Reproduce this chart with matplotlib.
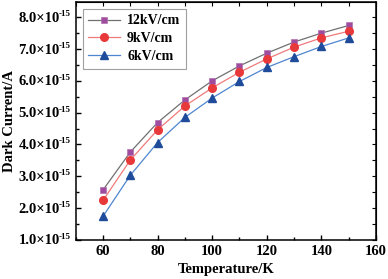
import matplotlib.pyplot as plt
import matplotlib.transforms as mtransforms
from matplotlib.ticker import MultipleLocator, NullFormatter

plt.rcParams['font.family'] = 'Liberation Serif'
plt.rcParams['font.weight'] = 'bold'

# temperature (K) and dark current (x1e-15 A)
temp = [60, 70, 80, 90, 100, 110, 120, 130, 140, 150]
cur_12 = [2.57, 3.76, 4.69, 5.40, 6.00, 6.47, 6.87, 7.22, 7.50, 7.74]
cur_9 = [2.24, 3.51, 4.46, 5.21, 5.78, 6.27, 6.69, 7.06, 7.35, 7.56]
cur_6 = [1.74, 3.03, 4.06, 4.85, 5.46, 5.98, 6.42, 6.76, 7.08, 7.35]
yticks = [1.0, 2.0, 3.0, 4.0, 5.0, 6.0, 7.0, 8.0]

fig = plt.figure(figsize=(3.88, 2.79), dpi=100)
ax = fig.add_axes([0.195, 0.14, 0.774, 0.853])

ax.plot(temp, cur_12, color='#707070', lw=0.9, marker='s', ms=5,
        mfc='#a04c9e', mec='#b070b0', mew=0.5, label='12kV/cm')
ax.plot(temp, cur_9, color='#f07a7a', lw=0.9, marker='o', ms=5.5,
        mfc='#e8393a', mec='#e8393a', label='9kV/cm')
ax.plot(temp, cur_6, color='#4f86d0', lw=0.9, marker='^', ms=6,
        mfc='#1f4b9b', mec='#1f4b9b', label='6kV/cm')

ax.set_xlim(50, 160)
ax.set_ylim(1.0, 8.48)
ax.xaxis.set_major_locator(MultipleLocator(20))
ax.xaxis.set_minor_locator(MultipleLocator(10))
ax.set_yticks(yticks)
ax.yaxis.set_minor_locator(MultipleLocator(0.5))
ax.yaxis.set_major_formatter(NullFormatter())

ax.tick_params(which='both', direction='in', labelsize=10.5, width=1)
ax.tick_params(which='major', length=3.5)
ax.tick_params(which='minor', length=2)
ax.tick_params(axis='x', pad=4)

# y tick labels: "n.n×10" plus a small raised "-15"
ytr = ax.get_yaxis_transform()
sup_tr = mtransforms.offset_copy(ytr, fig=fig, x=-5, y=3, units='dots')
main_tr = mtransforms.offset_copy(ytr, fig=fig, x=-16, y=-1, units='dots')
for v in yticks:
    ax.text(0, v, f'{v:.1f}×10', transform=main_tr, ha='right', va='center',
            fontsize=10.5, fontweight='bold')
    ax.text(0, v, '-15', transform=sup_tr, ha='right', va='center',
            fontsize=6.5, fontweight='bold')

ax2 = ax.secondary_xaxis('top')
ax2.xaxis.set_major_locator(MultipleLocator(10))
ax2.tick_params(direction='in', length=3)
ax2.set_xticklabels([])
ax3 = ax.secondary_yaxis('right')
ax3.yaxis.set_major_locator(MultipleLocator(0.5))
ax3.tick_params(direction='in', length=3)
ax3.set_yticklabels([])

for s in ax.spines.values():
    s.set_linewidth(1.1)

ax.set_xlabel('Temperature/K', fontsize=10.5, fontweight='bold')
ax.xaxis.set_label_coords(0.5, -0.097)
ax.set_ylabel('Dark Current/A', fontsize=10.5, fontweight='bold')
ax.yaxis.set_label_coords(-0.2, 0.5)

leg = ax.legend(loc='upper left', fontsize=10, frameon=True, fancybox=False,
                edgecolor='#888888', borderaxespad=0.5, handlelength=2.3,
                handletextpad=0.5, labelspacing=0.35, borderpad=0.4)
leg.get_frame().set_linewidth(0.8)

fig.savefig('out.png', dpi=100)
